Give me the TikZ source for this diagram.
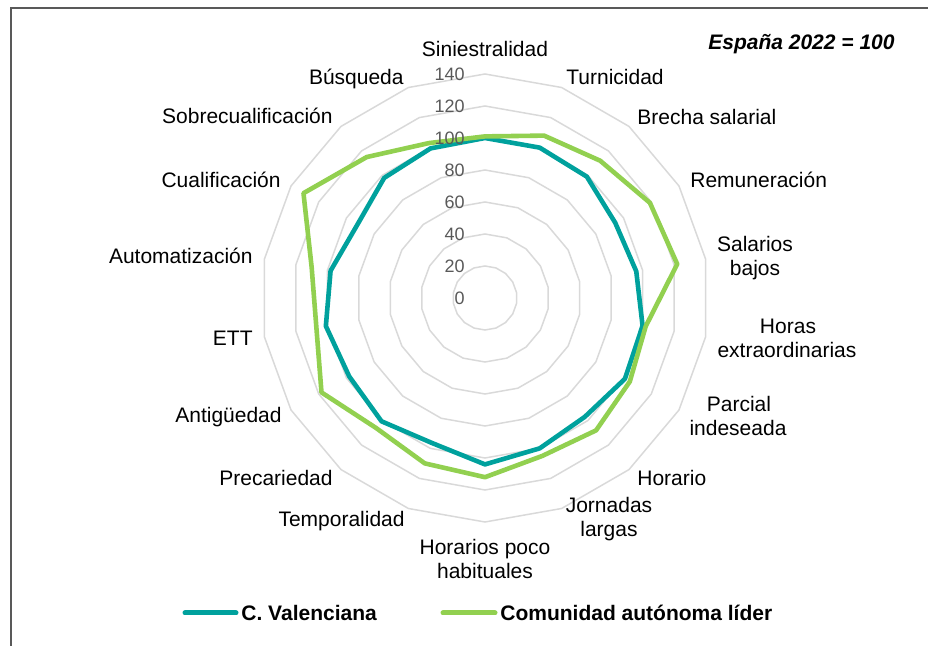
\documentclass[tikz,border=0pt]{standalone}
\usepackage{fontspec}
\setmainfont{Liberation Sans}
\definecolor{tealc}{HTML}{00A19D}
\definecolor{greenc}{HTML}{92D050}
\definecolor{gridc}{HTML}{D9D9D9}
\definecolor{tickc}{HTML}{595959}
\definecolor{framec}{HTML}{595959}
\tikzset{
  gridline/.style={draw=gridc, line width=0.75pt, line join=miter},
  tealline/.style={draw=tealc, line width=2.3pt, line join=round},
  greenline/.style={draw=greenc, line width=2.3pt, line join=round},
  legline/.style={line width=2.5pt, line cap=round},
  catlab/.style={inner sep=0pt, font=\fontsize{10.5}{12}\selectfont, text=black},
  ticklab/.style={inner sep=0pt, font=\fontsize{9}{10}\selectfont, text=tickc, anchor=east},
  leglab/.style={inner sep=0pt, font=\fontsize{10.5}{12}\selectfont\bfseries, text=black, anchor=base west},
}
\begin{document}
\begin{tikzpicture}[x=0.5pt,y=-0.5pt]
\useasboundingbox (0,0) rectangle (928,646);
% frame
\draw[framec, line width=1pt] (11,646) -- (11,8) -- (928,8);
% radar
\begin{scope}[shift={(485,298)},yscale=-1]
  \foreach \v in {20,40,...,140}{
    \draw[gridline] (90:1.6*\v) \foreach \i in {1,...,17}{ -- (90-20*\i:1.6*\v)} -- cycle;
  }
  \draw[tealline] (90:1.6*100) \foreach \val [count=\i] in
    {100,99,94,96,100,101,97,100,104,96.5,100.6,98,101,98,92,98,99.5}{ -- (90-20*\i:1.6*\val)} -- cycle;
  \draw[greenline] (90:1.6*101) \foreach \val [count=\i] in
    {108,112,119,122,102,104.5,108,105,112,110,106,118,107,110,131,115,103}{ -- (90-20*\i:1.6*\val)} -- cycle;
\end{scope}
% tick labels
\foreach \v in {0,20,...,140}{
  \node[ticklab] (t\v) at (465,298-1.6*\v) {\v};
}
% category labels
\node[catlab, anchor=base] (l0) at (485,57) {Siniestralidad};
\node[catlab, anchor=base west] (l1) at (566,85) {Turnicidad};
\node[catlab, anchor=base west] (l2) at (637,125) {Brecha salarial};
\node[catlab, anchor=base west] (l3) at (690,188) {Remuneración};
\node[catlab, anchor=base] (l4a) at (755,252) {Salarios};
\node[catlab, anchor=base] (l4b) at (755,276) {bajos};
\node[catlab, anchor=base] (l5a) at (788,334) {Horas};
\node[catlab, anchor=base] (l5b) at (787,358) {extraordinarias};
\node[catlab, anchor=base] (l6a) at (739,412) {Parcial};
\node[catlab, anchor=base] (l6b) at (738,436) {indeseada};
\node[catlab, anchor=base west] (l7) at (637,486) {Horario};
\node[catlab, anchor=base] (l8a) at (609,513) {Jornadas};
\node[catlab, anchor=base] (l8b) at (609,537) {largas};
\node[catlab, anchor=base] (l9a) at (485,555) {Horarios poco};
\node[catlab, anchor=base] (l9b) at (485,579) {habituales};
\node[catlab, anchor=base east] (l10) at (405,527) {Temporalidad};
\node[catlab, anchor=base east] (l11) at (333,486) {Precariedad};
\node[catlab, anchor=base east] (l12) at (282,423) {Antigüedad};
\node[catlab, anchor=base east] (l13) at (253,346) {ETT};
\node[catlab, anchor=base east] (l14) at (253,264) {Automatización};
\node[catlab, anchor=base east] (l15) at (281,188) {Cualificación};
\node[catlab, anchor=base east] (l16) at (333,124) {Sobrecualificación};
\node[catlab, anchor=base east] (l17) at (404,85) {Búsqueda};
% title
\node[catlab, anchor=base east, font=\fontsize{10.5}{12}\selectfont\bfseries\itshape] (title) at (895,50) {España 2022 = 100};
% legend
\coordinate (ta) at (185,613);
\coordinate (tb) at (236,613);
\draw[legline, tealc] (ta) -- (tb);
\node[leglab] (leg1) at (241,620.5) {C. Valenciana};
\coordinate (ga) at (443,613);
\coordinate (gb) at (495,613);
\draw[legline, greenc] (ga) -- (gb);
\node[leglab] (leg2) at (500,620.5) {Comunidad autónoma líder};
\end{tikzpicture}
\end{document}
